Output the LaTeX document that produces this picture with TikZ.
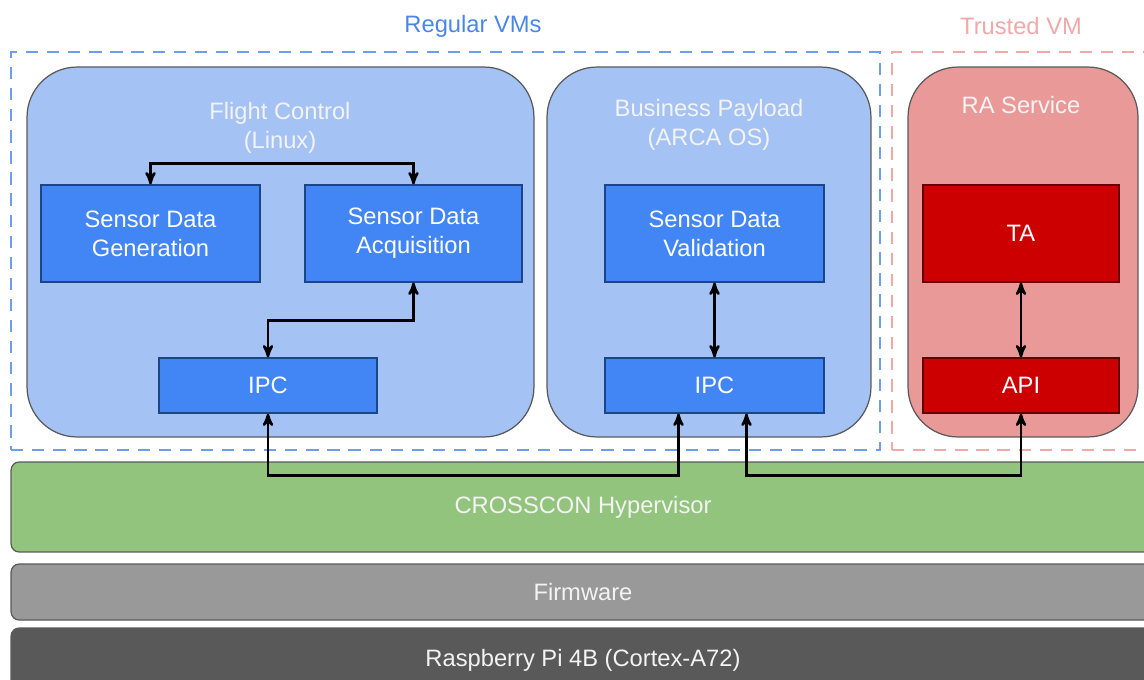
\documentclass[tikz,border=0pt]{standalone}
\usepackage{fontspec}
\setmainfont{Liberation Sans}
\usetikzlibrary{arrows,positioning,calc}
\definecolor{vmblue}{HTML}{A4C2F4}
\definecolor{appblue}{HTML}{4285F4}
\definecolor{edgeblue}{HTML}{1C4587}
\definecolor{dashblue}{HTML}{6D9EEB}
\definecolor{txtblue}{HTML}{4A86E8}
\definecolor{vmpink}{HTML}{EA9999}
\definecolor{appred}{HTML}{CC0000}
\definecolor{edgered}{HTML}{660000}
\definecolor{dashpink}{HTML}{F0A8A8}
\definecolor{hvgreen}{HTML}{93C47D}
\definecolor{fwgray}{HTML}{999999}
\definecolor{hwgray}{HTML}{595959}
\definecolor{boxline}{HTML}{595959}
\definecolor{softwhite}{HTML}{F3F3F3}
\tikzset{
  txt/.style={font=\fontsize{13.5}{16.5}\selectfont, align=center},
  vm/.style={draw=boxline, line width=0.7pt, rounded corners=1cm},
  vmtitle/.style={txt, text=softwhite},
  app/.style={txt, draw=edgeblue, fill=appblue, text=white, line width=0.7pt},
  trustapp/.style={txt, draw=edgered, fill=appred, text=white, line width=0.7pt},
  group/.style={dashed, line width=1.2pt, dash pattern=on 7pt off 5pt},
  layer/.style={txt, draw=boxline, line width=0.7pt, rounded corners=0.16cm, text=softwhite},
  link/.style={<->, >=stealth', line width=1.4pt, black}
}
\begin{document}
\begin{tikzpicture}[x=0.02cm, y=-0.02cm]
    \useasboundingbox (0,0) rectangle (1144,680);
    \clip (0,0) rectangle (1144,680);

    % groups
    \node[txt, text=txtblue] (regt) at (473,26) {Regular VMs};
    \node[txt, text=dashpink] (trut) at (1021,26) {Trusted VM};
    \node[group, draw=dashblue, minimum width=17.38cm, minimum height=7.96cm] (reg) at (445.5,251) {};
    \node[group, draw=dashpink, minimum width=5.4cm, minimum height=7.96cm] (tru) at (1027,251) {};

    % virtual machines
    \node[vm, fill=vmblue, minimum width=10.14cm, minimum height=7.4cm] (fc) at (280.5,252) {};
    \node[vm, fill=vmblue, minimum width=6.48cm, minimum height=7.4cm] (bp) at (709,252) {};
    \node[vm, fill=vmpink, minimum width=4.6cm, minimum height=7.4cm] (ra) at (1023,252) {};
    \node[vmtitle] (fct) at (280,128) {Flight Control\\(Linux)};
    \node[vmtitle] (bpt) at (709,125) {Business Payload\\(ARCA OS)};
    \node[vmtitle] (rat) at (1021,105) {RA Service};

    % applications
    \node[app, minimum width=4.38cm, minimum height=1.94cm] (gen) at (150.5,233.5) {Sensor Data\\Generation};
    \node[app, minimum width=4.34cm, minimum height=1.94cm] (acq) at (413.5,233.5) {Sensor Data\\Acquisition};
    \node[app, minimum width=4.36cm, minimum height=1.1cm] (ipca) at (268,385.5) {IPC};
    \node[app, minimum width=4.38cm, minimum height=1.94cm] (val) at (714.5,233.5) {Sensor Data\\Validation};
    \node[app, minimum width=4.38cm, minimum height=1.1cm] (ipcb) at (714.5,385.5) {IPC};
    \node[trustapp, minimum width=3.92cm, minimum height=1.94cm] (ta) at (1021,233.5) {TA};
    \node[trustapp, minimum width=3.92cm, minimum height=1.1cm] (api) at (1021,385.5) {API};

    % layers
    \node[layer, fill=hvgreen, minimum width=22.88cm, minimum height=1.8cm] (hyp) at (583,507) {CROSSCON Hypervisor};
    \node[layer, fill=fwgray, minimum width=22.88cm, minimum height=1.12cm] (fw) at (583,592) {Firmware};
    \node[layer, fill=hwgray, minimum width=22.88cm, minimum height=1.28cm] (hw) at (583,660) {Raspberry Pi 4B (Cortex-A72)};

    % connections
    \draw[link] (gen.north) -- ++(0,-21) -| (acq.north);
    \draw[link] (acq.south) -- ++(0,38) -| (ipca.north);
    \draw[link] (val) -- (ipcb);
    \draw[link] (ta) -- (api);
    \draw[link] (ipca.south) -- ++(0,62) -| ($(ipcb.south)+(-36,0)$);
    \draw[link] ($(ipcb.south)+(32,0)$) -- ++(0,62) -| (api.south);
\end{tikzpicture}
\end{document}
